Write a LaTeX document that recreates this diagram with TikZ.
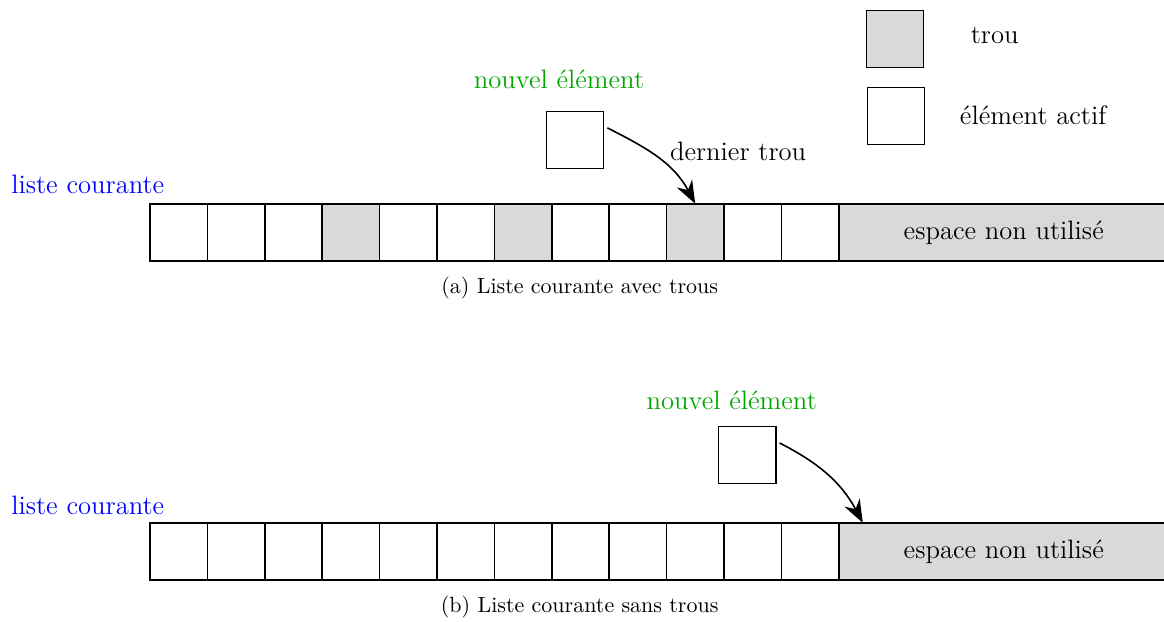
\documentclass[tikz,border=0pt]{standalone}
\usepackage{amsmath}
\usepackage{xcolor}
\usepackage{tikz}
\usetikzlibrary{arrows.meta}
\usetikzlibrary{positioning}
\def\cellw{1.0}
\def\rowa{-4.05}
\def\rowb{-9.61}
\def\startx{3.113}
\colorlet{vertnouv}{green!65!black}
\tikzset{
  actif/.style={draw, semithick, fill=white, minimum size=\cellw cm, inner sep=0pt, outer sep=0pt},
  trou/.style={actif, fill=gray!30},
  case/.style={thick},
  libre/.style={draw, thick, fill=gray!30, minimum width=5.75cm, minimum height=\cellw cm, inner sep=0pt, outer sep=0pt},
  fleche/.style={-{Stealth[length=4mm,width=3mm]}, thick, shorten <=2pt},
  legende/.style={font=\fontsize{10.9}{13}\selectfont},
}

\begin{document}
\begin{tikzpicture}[baseline=0, font=\fontsize{13.2}{16}\selectfont]
		\useasboundingbox (0,0) rectangle (20.28,-10.82);
		% legende
		\node[trou]  (legtrou)  at (15.59,-0.68) {};
		\node[actif] (legactif) at (15.61,-2.02) {};
		\node (txttrou)  at (17.33,-0.61) {trou};
		\node (txtactif) at (18.00,-2.00) {élément actif};
		% (a) liste avec trous
		\node[blue] (listeA) at (1.53,-3.22) {liste courante};
		\foreach \i/\s in {0/actif,1/actif,2/actif,3/trou,4/actif,5/actif,
		                   6/trou,7/actif,8/actif,9/trou,10/actif,11/actif}
			\node[\s, case] (a\i) at (\startx+\i*\cellw,\rowa) {};
		\node[libre, anchor=west] (libreA) at (a11.east) {espace non utilisé};
		\node[vertnouv] (titreA) at (9.74,-1.39) {nouvel élément};
		\node[actif] (nouvA) at (10.02,-2.44) {};
		\node (dernier) at (12.86,-2.63) {dernier trou};
		\draw[fleche] (nouvA.26) to[out=-27,in=118] (a9.north);
		\node[legende] (legA) at (10.10,-5.02) {(a) Liste courante avec trous};
		% (b) liste sans trous
		\node[blue] (listeB) at (1.53,-8.80) {liste courante};
		\foreach \i in {0,...,11}
			\node[actif, case] (b\i) at (\startx+\i*\cellw,\rowb) {};
		\node[libre, anchor=west] (libreB) at (b11.east) {espace non utilisé};
		\node[vertnouv] (titreB) at (12.75,-6.97) {nouvel élément};
		\node[actif] (nouvB) at (13.02,-7.93) {};
		\coordinate (cibleB) at ([xshift=0.42cm]libreB.north west);
		\draw[fleche] (nouvB.26) to[out=-27,in=118] (cibleB);
		\node[legende] (legB) at (10.10,-10.57) {(b) Liste courante sans trous};
\end{tikzpicture}
\end{document}
